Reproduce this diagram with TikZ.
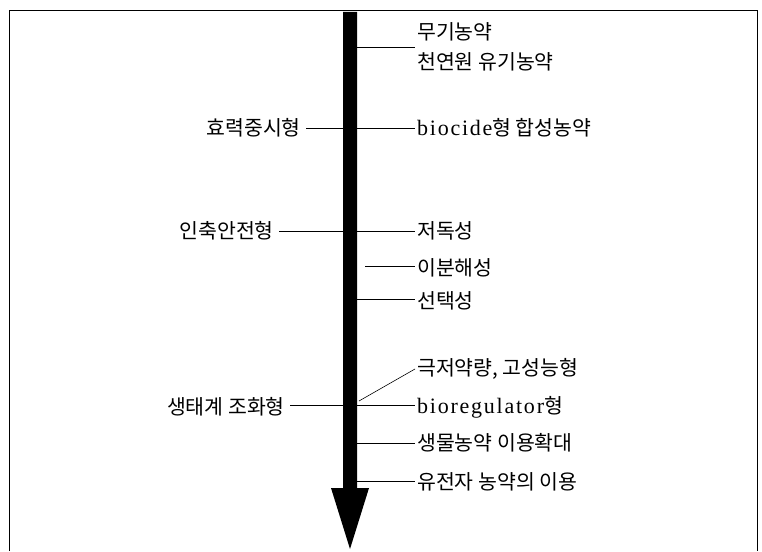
\documentclass[tikz,border=0pt]{standalone}
\usepackage{fontspec}
\setmainfont{Liberation Serif}[LetterSpace=8]
\newfontfamily\kr{Noto Sans CJK KR}
\begin{document}
\begin{tikzpicture}[x=1pt,y=-1pt,
  lbl/.style={font=\kr\fontsize{20.5}{30}\selectfont, inner sep=2pt},
  rlbl/.style={lbl, anchor=west, align=left},
  llbl/.style={lbl, anchor=east},
  lat/.style={font=\rmfamily\fontsize{22}{30}\selectfont},
  conn/.style={draw=black, line width=0.6pt}]
\useasboundingbox (0,0) rectangle (762,551);
% frame
\draw[line width=0.8pt] (9,551) -- (9,10) -- (757,10) -- (757,551);
% main arrow
\fill[black] (343,12) -- (357,12) -- (357,488) -- (369,488) -- (350,549) -- (331,488) -- (343,488) -- cycle;
% shaft edge coordinates
\coordinate (r1) at (357,47);
\coordinate (r2) at (357,128);
\coordinate (r3) at (357,231);
\coordinate (r4) at (365,266);
\coordinate (r5) at (357,299);
\coordinate (r6) at (359,401);
\coordinate (r7) at (357,405);
\coordinate (r8) at (357,443);
\coordinate (r9) at (357,481);
\coordinate (l2) at (343,128);
\coordinate (l3) at (343,231);
\coordinate (l7) at (343,405);
% right labels
\node[rlbl] (t1) at (415,47) {무기농약\\천연원 유기농약};
\node[rlbl] (t2) at (415,128) {{\rmfamily\fontsize{22}{30}\selectfont biocide}형 합성농약};
\node[rlbl] (t3) at (415,231) {저독성};
\node[rlbl] (t4) at (415,268) {이분해성};
\node[rlbl] (t5) at (415,301) {선택성};
\node[rlbl] (t6) at (415,369) {극저약량, 고성능형};
\node[rlbl] (t7) at (415,407) {{\rmfamily\fontsize{22}{30}\selectfont bioregulator}형};
\node[rlbl] (t8) at (415,443) {생물농약 이용확대};
\node[rlbl] (t9) at (415,482) {유전자 농약의 이용};
% left labels
\node[llbl] (s2) at (303,128) {효력중시형};
\node[llbl] (s3) at (276,231) {인축안전형};
\node[llbl] (s7) at (287,407) {생태계 조화형};
% connectors
\draw[conn] (r1) -- (t1.west);
\draw[conn] (r2) -- (t2.west |- r2);
\draw[conn] (r3) -- (t3.west |- r3);
\draw[conn] (r4) -- (t4.west |- r4);
\draw[conn] (r5) -- (t5.west |- r5);
\draw[conn] (r6) -- (t6.west);
\draw[conn] (r7) -- (t7.west |- r7);
\draw[conn] (r8) -- (t8.west |- r8);
\draw[conn] (r9) -- (t9.west |- r9);
\draw[conn] (s2.east |- l2) ++(3,0) -- (l2);
\draw[conn] (s3.east |- l3) ++(3,0) -- (l3);
\draw[conn] (s7.east |- l7) ++(3,0) -- (l7);
\end{tikzpicture}
\end{document}
